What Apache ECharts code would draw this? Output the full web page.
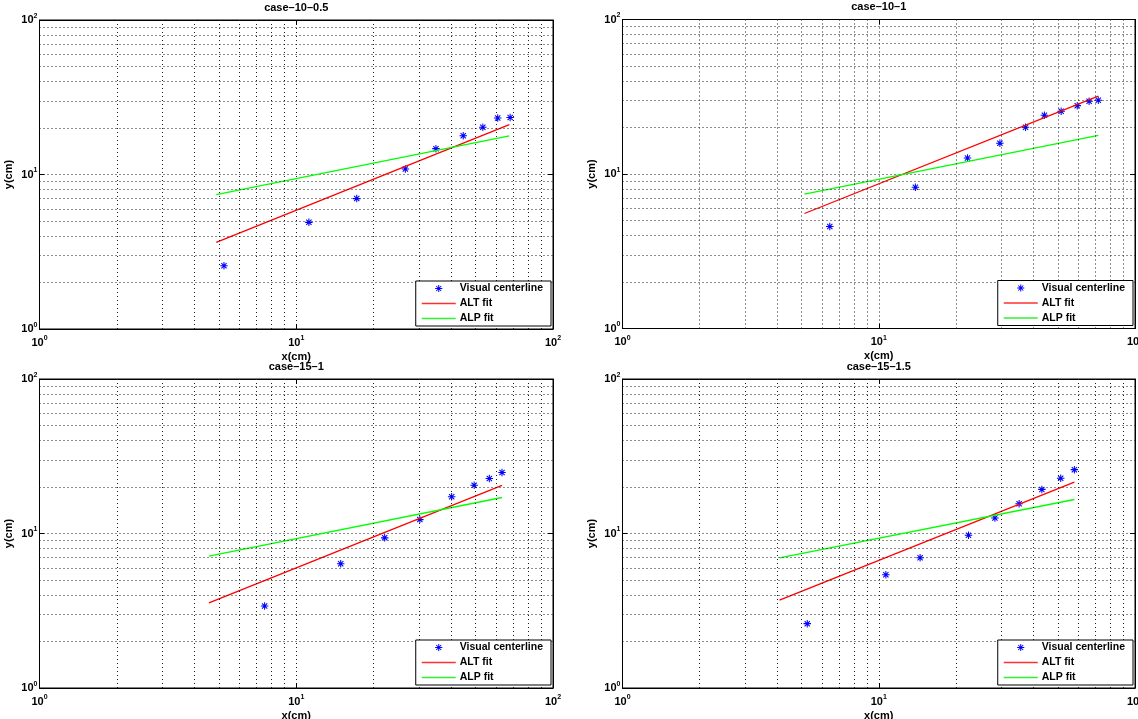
<!DOCTYPE html>
<html><head><meta charset="utf-8">
<script src="https://cdn.jsdelivr.net/npm/echarts@6/dist/echarts.min.js"></script>
<style>html,body{margin:0;padding:0;background:#fff;overflow:hidden}#c{width:1138px;height:719px}</style>
</head><body><div id="c"></div>
<script>
// ---------- data ----------
const titles = ['case\u201310\u20130.5', 'case\u201310\u20131', 'case\u201315\u20131', 'case\u201315\u20131.5'];
const seriesNames = ['Visual centerline', 'ALT fit', 'ALP fit'];
const xAxisName = 'x(cm)';
const yAxisName = 'y(cm)';
const axisMin = 1, axisMax = 100;
const minorGrid = [2, 3, 4, 5, 6, 7, 8, 9, 20, 30, 40, 50, 60, 70, 80, 90];

// case-10-0.5
const visX_a = [5.23, 11.2, 17.2, 26.6, 35.0, 44.7, 53.3, 60.9, 68.1];
const visY_a = [2.57, 4.90, 6.98, 10.85, 14.7, 17.8, 20.2, 23.2, 23.4];
const altX_a = [4.88, 67.6], altY_a = [3.64, 21.0];
const alpX_a = [4.88, 67.6], alpY_a = [7.41, 17.8];
// case-10-1
const visX_b = [6.44, 13.9, 22.2, 29.7, 37.4, 44.3, 51.5, 59.5, 66.2, 71.9];
const visY_b = [4.57, 8.22, 12.7, 15.8, 20.1, 24.0, 25.5, 27.7, 29.6, 30.0];
const altX_b = [5.13, 71.9], altY_b = [5.55, 31.9];
const alpX_b = [5.13, 71.9], alpY_b = [7.41, 17.8];
// case-15-1
const visX_c = [7.53, 14.9, 22.1, 30.3, 40.3, 49.3, 56.5, 63.3];
const visY_c = [3.39, 6.37, 9.37, 12.3, 17.3, 20.5, 22.7, 24.8];
const altX_c = [4.57, 63.3], altY_c = [3.56, 20.5];
const alpX_c = [4.57, 63.3], alpY_c = [7.14, 17.1];
// case-15-1.5
const visX_d = [5.26, 10.66, 14.5, 22.4, 28.4, 35.3, 43.3, 51.3, 58.0];
const visY_d = [2.61, 5.41, 6.96, 9.75, 12.6, 15.6, 19.3, 22.8, 25.9];
const altX_d = [4.10, 58.0], altY_d = [3.71, 21.5];
const alpX_d = [4.10, 58.0], alpY_d = [6.96, 16.6];

const panels = [
  {vx: visX_a, vy: visY_a, ax: altX_a, ay: altY_a, px: alpX_a, py: alpY_a},
  {vx: visX_b, vy: visY_b, ax: altX_b, ay: altY_b, px: alpX_b, py: alpY_b},
  {vx: visX_c, vy: visY_c, ax: altX_c, ay: altY_c, px: alpX_c, py: alpY_c},
  {vx: visX_d, vy: visY_d, ax: altX_d, ay: altY_d, px: alpX_d, py: alpY_d}
];

// ---------- style / layout ----------
const W = 1138;
const FONT = '"Liberation Sans", Arial, Helvetica, sans-serif';
const boxes = [
  {left: 39.5, top: 20, width: 513.5, height: 309},
  {left: 622.5, top: 19.5, width: 512.5, height: 309},
  {left: 39.5, top: 379, width: 513.5, height: 309},
  {left: 622.5, top: 379, width: 512.5, height: 309}
];
const BLUE = '#0000ff', RED = '#ff0000', GREEN = '#00ff00';
const ASTER = 'path://M-0.7,-5 L0.7,-5 L0.7,5 L-0.7,5 Z M-5,-0.7 L5,-0.7 L5,0.7 L-5,0.7 Z M-3.0,-4.0 L4.0,3.0 L3.0,4.0 L-4.0,-3.0 Z M-4.0,3.0 L3.0,-4.0 L4.0,-3.0 L-3.0,4.0 Z';
const LEG_ASTER = 'path://M-7,-7 L-7,-7 Z M7,7 L7,7 Z M-0.7,-5 L0.7,-5 L0.7,5 L-0.7,5 Z M-5,-0.7 L5,-0.7 L5,0.7 L-5,0.7 Z M-3.0,-4.0 L4.0,3.0 L3.0,4.0 L-4.0,-3.0 Z M-4.0,3.0 L3.0,-4.0 L4.0,-3.0 L-3.0,4.0 Z';
const LEG_LINE = 'path://M0,0 L34,0 L34,1.4 L0,1.4 Z';
const dotted = {color: '#1a1a1a', width: 1, type: [1, 3]};

const pow10 = v => '10{s|' + Math.round(Math.log10(v)) + '}';
const labelRich = {s: {fontSize: 7, fontWeight: 'bold', fontFamily: FONT, color: '#000', verticalAlign: 'top', lineHeight: 15}};
const labelBase = {color: '#000', fontSize: 11, fontWeight: 'bold', fontFamily: FONT, lineHeight: 15, formatter: pow10, rich: labelRich};

const grid = [], xAxis = [], yAxis = [], series = [], legend = [];
boxes.forEach((b, i) => {
  grid.push({left: b.left, top: b.top, width: b.width, height: b.height, show: true,
    borderColor: '#000', borderWidth: 1, backgroundColor: '#fff', containLabel: false,
    outerBoundsMode: 'none'});
});
boxes.forEach((b, i) => {
  xAxis.push({gridIndex: i, type: 'log', logBase: 10, min: axisMin, max: axisMax, position: 'bottom',
    name: xAxisName, nameLocation: 'middle', nameGap: 22,
    nameTextStyle: {color: '#000', fontSize: 11, fontWeight: 'bold', fontFamily: FONT},
    axisLine: {show: true, lineStyle: {color: '#000', width: 1}},
    axisTick: {show: true, inside: true, length: 5, lineStyle: {color: '#000'}},
    axisLabel: Object.assign({margin: 6, showMaxLabel: true, showMinLabel: true,
      alignMinLabel: 'center', alignMaxLabel: 'center'}, labelBase),
    splitLine: {show: true, lineStyle: dotted}});
});
boxes.forEach((b, i) => {
  xAxis.push({gridIndex: i, type: 'log', logBase: 10, min: axisMin, max: axisMax, position: 'top',
    name: titles[i], nameLocation: 'middle', nameGap: 7,
    nameTextStyle: {color: '#000', fontSize: 11, fontWeight: 'bold', fontFamily: FONT},
    axisLine: {show: true, lineStyle: {color: '#000', width: 1}},
    axisTick: {show: true, inside: true, length: 5, lineStyle: {color: '#000'}},
    axisLabel: {show: false}, splitLine: {show: false}});
});
boxes.forEach((b, i) => {
  yAxis.push({gridIndex: i, type: 'log', logBase: 10, min: axisMin, max: axisMax, position: 'left',
    name: yAxisName, nameLocation: 'middle', nameGap: 25, nameRotate: 90,
    nameTextStyle: {color: '#000', fontSize: 11, fontWeight: 'bold', fontFamily: FONT},
    axisLine: {show: true, lineStyle: {color: '#000', width: 1}},
    axisTick: {show: true, inside: true, length: 5, lineStyle: {color: '#000'}},
    axisLabel: Object.assign({margin: 2}, labelBase),
    splitLine: {show: true, lineStyle: dotted}});
});
boxes.forEach((b, i) => {
  yAxis.push({gridIndex: i, type: 'log', logBase: 10, min: axisMin, max: axisMax, position: 'right',
    axisLine: {show: true, lineStyle: {color: '#000', width: 1}},
    axisTick: {show: true, inside: true, length: 5, lineStyle: {color: '#000'}},
    axisLabel: {show: false}, splitLine: {show: false}});
});

const zip = (xs, ys) => xs.map((x, k) => [x, ys[k]]);
panels.forEach((p, i) => {
  series.push({
    name: seriesNames[0], type: 'scatter', xAxisIndex: i, yAxisIndex: i,
    data: zip(p.vx, p.vy), symbol: ASTER, symbolSize: 7.5, symbolKeepAspect: true,
    itemStyle: {color: BLUE, opacity: 1}, z: 3,
    markLine: {silent: true, symbol: ['none', 'none'], label: {show: false}, animation: false,
      lineStyle: dotted, emphasis: {disabled: true},
      data: minorGrid.map(v => ({xAxis: v})).concat(minorGrid.map(v => ({yAxis: v})))}
  });
  series.push({
    name: seriesNames[1], type: 'line', xAxisIndex: i, yAxisIndex: i,
    data: zip(p.ax, p.ay), symbol: 'none', showSymbol: false,
    lineStyle: {color: RED, width: 1.3}, itemStyle: {color: RED}, z: 4
  });
  series.push({
    name: seriesNames[2], type: 'line', xAxisIndex: i, yAxisIndex: i,
    data: zip(p.px, p.py), symbol: 'none', showSymbol: false,
    lineStyle: {color: GREEN, width: 1.3}, itemStyle: {color: GREEN}, z: 4
  });
});

boxes.forEach((b, i) => {
  const right = b.left + b.width;
  const bottom = b.top + b.height;
  legend.push({
    orient: 'vertical', right: W - right + 2, top: bottom - 48,
    backgroundColor: '#fff', borderColor: '#000', borderWidth: 1,
    padding: [2, 8, 2, 6], itemGap: 4, itemWidth: 34, itemHeight: 10,
    selectedMode: false, z: 10,
    textStyle: {color: '#000', fontSize: 10.5, fontWeight: 'bold', fontFamily: FONT, padding: [0, 0, 0, -1]},
    data: [
      {name: seriesNames[0], icon: LEG_ASTER, itemStyle: {color: BLUE}},
      {name: seriesNames[1], icon: LEG_LINE, itemStyle: {color: '#ff3030'}},
      {name: seriesNames[2], icon: LEG_LINE, itemStyle: {color: '#30f030'}}
    ]
  });
});

const chart = echarts.init(document.getElementById('c'), null, {renderer: 'canvas'});
chart.setOption({
  animation: false, backgroundColor: '#fff',
  grid, xAxis, yAxis, series, legend
});
</script></body></html>
